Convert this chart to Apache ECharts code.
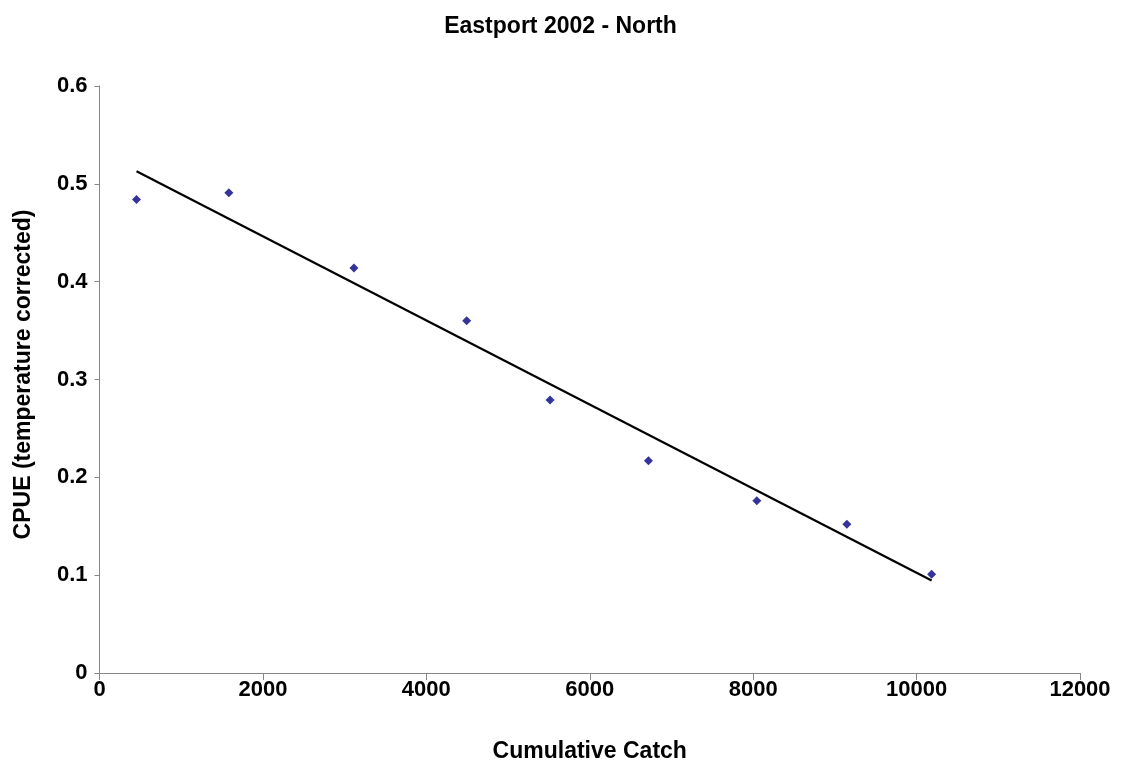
<!DOCTYPE html>
<html>
<head>
<meta charset="utf-8">
<script src="https://cdn.jsdelivr.net/npm/echarts@6/dist/echarts.min.js"></script>
<style>
  html, body { margin: 0; padding: 0; background: #fff; }
  #chart { width: 1121px; height: 769px; }
</style>
</head>
<body>
<div id="chart"></div>
<script>
// Cumulative catch vs temperature-corrected CPUE, Eastport 2002 (North)
const cumulativeCatch = [453, 1583, 3114, 4494, 5514, 6718, 8045, 9147, 10184];
const cpue = [0.484, 0.491, 0.414, 0.360, 0.279, 0.217, 0.176, 0.152, 0.101];
const xTicks = { min: 0, max: 12000, step: 2000 };
const yTicks = { min: 0, max: 0.6, step: 0.1 };

// Least-squares trend line across the observed catch range
function linearFit(xs, ys) {
  const n = xs.length;
  const mx = xs.reduce((a, b) => a + b, 0) / n;
  const my = ys.reduce((a, b) => a + b, 0) / n;
  let sxy = 0, sxx = 0;
  for (let i = 0; i < n; i++) {
    sxy += (xs[i] - mx) * (ys[i] - my);
    sxx += (xs[i] - mx) * (xs[i] - mx);
  }
  const slope = sxy / sxx;
  return { slope, intercept: my - slope * mx };
}
const fit = linearFit(cumulativeCatch, cpue);
const xLo = Math.min(...cumulativeCatch);
const xHi = Math.max(...cumulativeCatch);
const trend = [
  [xLo, fit.intercept + fit.slope * xLo],
  [xHi, fit.intercept + fit.slope * xHi]
];

const points = cumulativeCatch.map((x, i) => [x, cpue[i]]);
const font = '"Liberation Sans", Arial, sans-serif';
const axisGrey = '#868686';

const chart = echarts.init(document.getElementById('chart'), null, { renderer: 'canvas' });
chart.setOption({
  backgroundColor: '#ffffff',
  animation: false,
  title: {
    text: 'Eastport 2002 - North',
    left: 'center',
    top: 10,
    textStyle: { fontFamily: font, fontWeight: 'bold', fontSize: 23, color: '#000' }
  },
  grid: { left: 99.5, right: 41, top: 86, bottom: 96, containLabel: false },
  xAxis: {
    type: 'value',
    min: xTicks.min, max: xTicks.max, interval: xTicks.step,
    name: 'Cumulative Catch',
    nameLocation: 'middle',
    nameGap: 67,
    nameTextStyle: { fontFamily: font, fontWeight: 'bold', fontSize: 23, color: '#000' },
    axisLine: { show: true, onZero: false, lineStyle: { color: axisGrey, width: 1 } },
    axisTick: { show: true, inside: false, length: 7, lineStyle: { color: axisGrey } },
    axisLabel: {
      margin: 6, fontFamily: font, fontWeight: 'bold', fontSize: 22, color: '#000',
      formatter: v => String(v)
    },
    splitLine: { show: false }
  },
  yAxis: {
    type: 'value',
    min: yTicks.min, max: yTicks.max, interval: yTicks.step,
    name: 'CPUE (temperature corrected)',
    nameLocation: 'middle',
    nameGap: 64,
    nameTextStyle: {
      fontFamily: font, fontWeight: 'bold', fontSize: 23, color: '#000',
      padding: [0, 0, 0, 10]
    },
    axisLine: { show: true, lineStyle: { color: axisGrey, width: 1 } },
    axisTick: { show: true, inside: false, length: 5, lineStyle: { color: axisGrey } },
    axisLabel: {
      margin: 12, fontFamily: font, fontWeight: 'bold', fontSize: 22, color: '#000',
      formatter: v => (v === 0 ? '0' : v.toFixed(1))
    },
    splitLine: { show: false }
  },
  series: [
    {
      name: 'Trend',
      type: 'line',
      data: trend,
      showSymbol: false,
      lineStyle: { color: '#000', width: 2.2 },
      z: 2
    },
    {
      name: 'CPUE',
      type: 'scatter',
      data: points,
      symbol: 'diamond',
      symbolSize: 9,
      itemStyle: { color: '#000080' },
      z: 3
    }
  ]
});
</script>
</body>
</html>
